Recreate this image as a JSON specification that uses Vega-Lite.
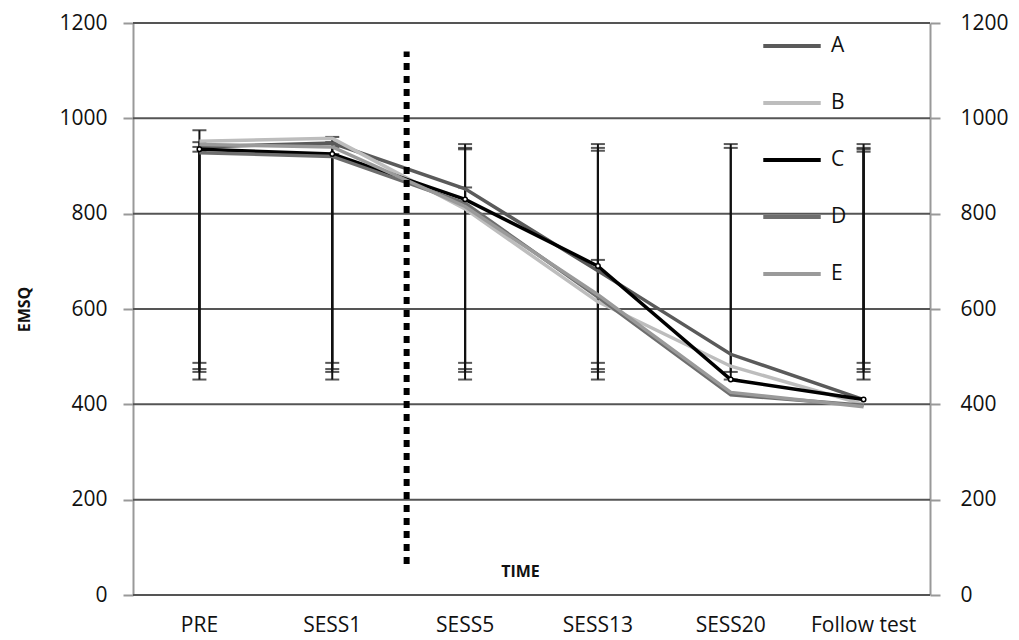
{
  "$schema": "https://vega.github.io/schema/vega-lite/v6.json",
  "width": 797,
  "height": 572,
  "autosize": {"type": "none"},
  "padding": {"left": 133, "top": 23, "right": 89, "bottom": 45},
  "background": "white",
  "config": {
    "font": "Open Sans",
    "view": {"stroke": null}
  },
  "datasets": {
    "lines": [
      {"time": "PRE", "series": "A", "value": 940},
      {"time": "SESS1", "series": "A", "value": 948},
      {"time": "SESS5", "series": "A", "value": 852},
      {"time": "SESS13", "series": "A", "value": 680},
      {"time": "SESS20", "series": "A", "value": 505},
      {"time": "Follow test", "series": "A", "value": 410},
      {"time": "PRE", "series": "B", "value": 952},
      {"time": "SESS1", "series": "B", "value": 958},
      {"time": "SESS5", "series": "B", "value": 810},
      {"time": "SESS13", "series": "B", "value": 615},
      {"time": "SESS20", "series": "B", "value": 480},
      {"time": "Follow test", "series": "B", "value": 400},
      {"time": "PRE", "series": "C", "value": 935},
      {"time": "SESS1", "series": "C", "value": 925},
      {"time": "SESS5", "series": "C", "value": 830},
      {"time": "SESS13", "series": "C", "value": 690},
      {"time": "SESS20", "series": "C", "value": 452},
      {"time": "Follow test", "series": "C", "value": 410},
      {"time": "PRE", "series": "D", "value": 928},
      {"time": "SESS1", "series": "D", "value": 920},
      {"time": "SESS5", "series": "D", "value": 822},
      {"time": "SESS13", "series": "D", "value": 625},
      {"time": "SESS20", "series": "D", "value": 420},
      {"time": "Follow test", "series": "D", "value": 398},
      {"time": "PRE", "series": "E", "value": 945},
      {"time": "SESS1", "series": "E", "value": 940},
      {"time": "SESS5", "series": "E", "value": 815},
      {"time": "SESS13", "series": "E", "value": 630},
      {"time": "SESS20", "series": "E", "value": 425},
      {"time": "Follow test", "series": "E", "value": 395}
    ],
    "errs": [
      {"time": "PRE", "lo": 487, "hi": 975},
      {"time": "PRE", "lo": 474, "hi": 950},
      {"time": "PRE", "lo": 468, "hi": 940},
      {"time": "PRE", "lo": 452, "hi": 930},
      {"time": "SESS1", "lo": 487, "hi": 961},
      {"time": "SESS1", "lo": 474, "hi": 950},
      {"time": "SESS1", "lo": 468, "hi": 940},
      {"time": "SESS1", "lo": 452, "hi": 925},
      {"time": "SESS5", "lo": 487, "hi": 946},
      {"time": "SESS5", "lo": 474, "hi": 938},
      {"time": "SESS5", "lo": 468, "hi": 935},
      {"time": "SESS5", "lo": 452, "hi": 855},
      {"time": "SESS13", "lo": 487, "hi": 946},
      {"time": "SESS13", "lo": 474, "hi": 938},
      {"time": "SESS13", "lo": 468, "hi": 932},
      {"time": "SESS13", "lo": 452, "hi": 703},
      {"time": "SESS20", "lo": 468, "hi": 946},
      {"time": "SESS20", "lo": 452, "hi": 938},
      {"time": "Follow test", "lo": 487, "hi": 946},
      {"time": "Follow test", "lo": 474, "hi": 938},
      {"time": "Follow test", "lo": 468, "hi": 935},
      {"time": "Follow test", "lo": 452, "hi": 930}
    ],
    "divider": [
      {"time": "SESS5", "lo": 65, "hi": 1140}
    ]
  },
  "encoding": {
    "x": {
      "field": "time",
      "type": "nominal",
      "sort": ["PRE", "SESS1", "SESS5", "SESS13", "SESS20", "Follow test"],
      "scale": {"type": "band", "domain": ["PRE", "SESS1", "SESS5", "SESS13", "SESS20", "Follow test"], "paddingInner": 0, "paddingOuter": 0},
      "axis": {
        "title": "TIME",
        "titleFont": "Open Sans",
        "titleFontSize": 16,
        "titleFontWeight": "bold",
        "titleColor": "#111",
        "titleY": -32,
        "titleX": 387,
        "labelAngle": 0,
        "labelFontSize": 21,
        "labelColor": "#111",
        "labelPadding": 19,
        "ticks": false,
        "domain": false,
        "grid": false
      }
    }
  },
  "layer": [
    {
      "data": {"values": [{"v": 0}, {"v": 200}, {"v": 400}, {"v": 600}, {"v": 800}, {"v": 1000}, {"v": 1200}]},
      "mark": {"type": "rule", "color": "#555555", "strokeWidth": 2},
      "encoding": {
        "x": null,
        "y": {
          "field": "v",
          "type": "quantitative",
          "scale": {"domain": [0, 1200], "nice": false, "zero": true},
          "axis": {
            "orient": "left",
            "values": [0, 200, 400, 600, 800, 1000, 1200],
            "format": "d",
            "title": "EMSQ",
            "titleFontSize": 16,
            "titleFontWeight": "bold",
            "titleColor": "#111",
            "titlePadding": 26,
            "labelFontSize": 21,
            "labelColor": "#111",
            "labelPadding": 16,
            "tickSize": 10,
            "tickColor": "#999999",
            "tickWidth": 2,
            "domainColor": "#999999",
            "domainWidth": 2,
            "grid": false
          }
        }
      }
    },
    {
      "data": {"values": [{"v": 0}]},
      "mark": {"type": "rule", "opacity": 0},
      "encoding": {
        "x": null,
        "y": {
          "field": "v",
          "type": "quantitative",
          "scale": {"domain": [0, 1200], "nice": false},
          "axis": {
            "orient": "right",
            "values": [0, 200, 400, 600, 800, 1000, 1200],
            "format": "d",
            "title": null,
            "labelFontSize": 21,
            "labelColor": "#111",
            "labelPadding": 20,
            "tickSize": 10,
            "tickColor": "#999999",
            "tickWidth": 2,
            "domainColor": "#999999",
            "domainWidth": 2,
            "grid": false
          }
        }
      }
    },
    {
      "data": {"name": "errs"},
      "mark": {"type": "rule", "color": "#111111", "strokeWidth": 2},
      "encoding": {
        "y": {"field": "lo", "type": "quantitative", "axis": null},
        "y2": {"field": "hi"}
      }
    },
    {
      "data": {"name": "errs"},
      "mark": {"type": "tick", "color": "#111111", "thickness": 2, "size": 14, "orient": "horizontal"},
      "encoding": {
        "y": {"field": "lo", "type": "quantitative", "axis": null}
      }
    },
    {
      "data": {"name": "errs"},
      "mark": {"type": "tick", "color": "#111111", "thickness": 2, "size": 14, "orient": "horizontal"},
      "encoding": {
        "y": {"field": "hi", "type": "quantitative", "axis": null}
      }
    },
    {
      "data": {"name": "lines"},
      "mark": {"type": "line", "strokeWidth": 3.5},
      "encoding": {
        "y": {"field": "value", "type": "quantitative", "axis": null},
        "color": {
          "field": "series",
          "type": "nominal",
          "scale": {"domain": ["A", "B", "C", "D", "E"], "range": ["#5a5a5a", "#bdbdbd", "#000000", "#6e6e6e", "#9a9a9a"]},
          "legend": {
            "title": null,
            "orient": "none",
            "legendX": 628,
            "legendY": -8,
            "symbolType": "stroke",
            "symbolSize": 3300,
            "symbolStrokeWidth": 4,
            "labelFontSize": 21,
            "labelColor": "#111",
            "labelOffset": 8,
            "rowPadding": 16
          }
        },
        "order": {"field": "series", "sort": "descending"}
      }
    },
    {
      "data": {"name": "lines"},
      "transform": [{"filter": "datum.series === 'C'"}],
      "mark": {"type": "point", "shape": "circle", "filled": true, "fill": "white", "stroke": "black", "strokeWidth": 1.5, "size": 20, "opacity": 1},
      "encoding": {
        "y": {"field": "value", "type": "quantitative", "axis": null}
      }
    },
    {
      "data": {"name": "divider"},
      "mark": {"type": "rule", "color": "#000000", "strokeWidth": 6, "strokeDash": [7, 6]},
      "encoding": {
        "x": {"field": "time", "type": "nominal", "bandPosition": 0.06},
        "y": {"field": "lo", "type": "quantitative", "axis": null},
        "y2": {"field": "hi"}
      }
    }
  ],
  "resolve": {"scale": {"y": "shared"}, "axis": {"y": "independent"}}
}
